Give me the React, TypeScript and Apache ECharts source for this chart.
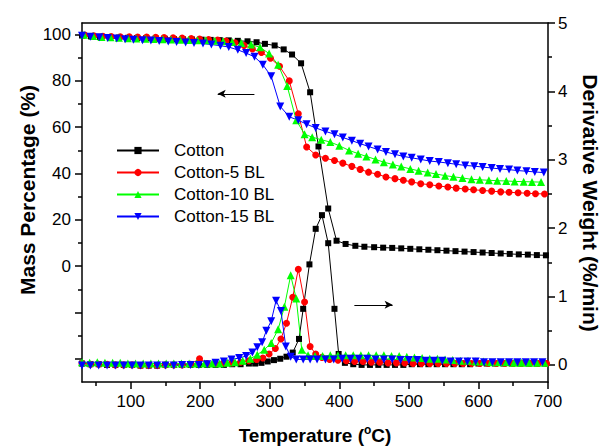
import React, { useEffect, useRef } from "react";
import * as echarts from "echarts";

const FONT = '"Liberation Sans", Arial, Helvetica, sans-serif';

// ---------- names, colours, symbols ----------
const seriesNames = ["Cotton", "Cotton-5 BL", "Cotton-10 BL", "Cotton-15 BL"];
const seriesColors = ["#000000", "#ff0000", "#00ff00", "#0000ff"];
const seriesSymbols = ["rect", "circle", "triangle", "triangle"];
const seriesSymbolRotate = [0, 0, 0, 180];
const seriesSymbolSize = [6, 7, 8, 8];

// ---------- axis ticks ----------
const xMajorTicks = [100, 200, 300, 400, 500, 600, 700];
const xMinorTicks = [50, 150, 250, 350, 450, 550, 650];
const massMajorTicks = [-40, -20, 0, 20, 40, 60, 80, 100];
const massMinorTicks = [-30, -10, 10, 30, 50, 70, 90];
const massLabels = [0, 20, 40, 60, 80, 100];
const derivMajorTicks = [0, 1, 2, 3, 4, 5];
const derivMinorTicks = [0.5, 1.5, 2.5, 3.5, 4.5];

// ---------- TGA (mass %) ----------
const tgaCottonT = [30, 43, 56, 70, 83, 96, 109, 122, 136, 149, 162, 175, 188, 202, 215, 228, 241, 254, 268, 281, 293, 307, 320, 332, 345, 358, 370, 384, 396, 409, 423, 436, 450, 463, 476, 489, 502, 515, 528, 541, 554, 567, 580, 593, 606, 619, 632, 645, 658, 671, 684, 697];
const tgaCottonM = [99.6, 99.2, 99.0, 98.8, 98.7, 98.6, 98.5, 98.4, 98.3, 98.2, 98.1, 98.0, 97.9, 97.8, 97.7, 97.6, 97.5, 97.3, 97.1, 96.7, 96.0, 95.3, 93.6, 91.4, 87.6, 75.1, 51.7, 24.9, 11.0, 9.6, 8.8, 8.4, 8.2, 8.0, 7.9, 7.7, 7.5, 7.3, 7.1, 6.9, 6.7, 6.5, 6.3, 6.1, 5.9, 5.7, 5.5, 5.3, 5.1, 5.0, 4.8, 4.7];

const tga5T = [34, 47, 60, 72, 85, 98, 110, 123, 136, 148, 161, 174, 187, 199, 212, 225, 237, 250, 263, 275, 288, 301, 314, 328, 341, 353, 366, 380, 393, 405, 418, 430, 442, 455, 467, 480, 492, 504, 517, 530, 543, 556, 568, 581, 593, 606, 619, 632, 644, 657, 670, 682, 695];
const tga5M = [99.8, 99.5, 99.3, 99.2, 99.1, 99.0, 98.9, 98.9, 98.8, 98.7, 98.6, 98.5, 98.3, 98.1, 97.9, 97.6, 97.2, 96.5, 95.3, 93.8, 92.3, 89.8, 86.3, 80.0, 65.8, 51.5, 48.0, 46.6, 45.6, 44.5, 43.1, 41.8, 40.6, 39.7, 38.5, 37.8, 37.1, 36.4, 35.6, 35.2, 34.6, 34.2, 33.7, 33.3, 33.0, 32.7, 32.4, 32.1, 31.9, 31.7, 31.5, 31.3, 31.2];

const tga10T = [33, 46, 58, 71, 83, 96, 108, 121, 133, 146, 158, 171, 183, 196, 208, 221, 233, 246, 259, 273, 286, 299, 312, 325, 338, 350, 361, 374, 387, 400, 414, 427, 439, 452, 464, 477, 489, 502, 514, 527, 539, 552, 564, 577, 590, 602, 615, 627, 640, 652, 665, 677, 690];
const tga10M = [99.9, 99.4, 99.0, 98.8, 98.6, 98.4, 98.3, 98.2, 98.1, 98.0, 97.9, 97.8, 97.7, 97.6, 97.5, 97.3, 97.1, 96.8, 96.4, 95.7, 94.5, 91.8, 87.0, 77.8, 63.0, 57.0, 55.7, 54.6, 53.6, 52.0, 50.0, 48.6, 47.4, 46.1, 44.9, 43.9, 43.0, 42.0, 41.2, 40.5, 39.8, 39.1, 38.6, 38.1, 37.5, 37.3, 37.1, 36.9, 36.8, 36.6, 36.5, 36.4, 36.3];

const tga15T = [30, 42, 55, 67, 80, 92, 104, 117, 129, 141, 154, 166, 179, 191, 204, 216, 229, 241, 254, 266, 278, 290, 302, 315, 328, 341, 353, 366, 380, 393, 405, 418, 430, 442, 455, 467, 480, 492, 504, 517, 530, 543, 556, 568, 581, 594, 606, 619, 631, 644, 656, 669, 681, 694];
const tga15M = [99.5, 99.1, 98.8, 98.5, 98.3, 98.0, 97.8, 97.6, 97.4, 97.2, 97.0, 96.8, 96.6, 96.4, 96.1, 95.7, 95.2, 94.6, 93.4, 92.0, 90.4, 87.0, 82.0, 69.0, 64.5, 63.0, 61.3, 59.7, 58.2, 57.0, 55.6, 54.2, 52.9, 51.7, 50.4, 49.3, 48.3, 47.4, 46.8, 46.1, 45.4, 45.0, 44.5, 44.0, 43.5, 43.2, 42.8, 42.4, 42.0, 41.7, 41.3, 41.0, 40.7, 40.4];

// ---------- DTG (derivative weight, %/min) ----------
const dtgCottonT = [30, 42, 54, 66, 78, 90, 102, 114, 126, 138, 150, 162, 174, 186, 198, 210, 222, 234, 246, 258, 270, 279, 288, 297, 306, 315, 324, 333, 342, 348, 357, 366, 375, 384, 393, 399, 408, 420, 432, 444, 456, 468, 480, 492, 504, 516, 528, 540, 552, 564, 576, 588, 600, 612, 624, 636, 648, 660, 672, 684, 696];
const dtgCottonD = [0.02, 0.01, 0.01, 0.0, 0.0, 0.0, 0.0, -0.01, -0.01, -0.01, 0.0, 0.0, 0.0, 0.0, 0.0, 0.0, 0.0, 0.0, 0.01, 0.01, 0.02, 0.02, 0.03, 0.05, 0.07, 0.09, 0.12, 0.18, 0.38, 0.82, 1.47, 1.99, 2.19, 1.78, 0.82, 0.16, 0.03, 0.01, 0.0, 0.0, 0.0, 0.0, 0.0, 0.0, 0.01, 0.01, 0.01, 0.01, 0.01, 0.01, 0.01, 0.01, 0.02, 0.02, 0.02, 0.02, 0.02, 0.02, 0.02, 0.02, 0.02];

const dtg5T = [30, 42, 54, 66, 78, 90, 102, 114, 126, 138, 150, 162, 174, 186, 199, 210, 222, 234, 246, 258, 270, 281, 290, 299, 308, 316, 324, 333, 341, 350, 358, 366, 375, 386, 398, 410, 422, 434, 446, 458, 470, 482, 494, 506, 518, 530, 542, 554, 566, 578, 590, 602, 614, 626, 638, 650, 662, 674, 686, 698];
const dtg5D = [0.02, 0.01, 0.01, 0.01, 0.0, 0.0, 0.0, -0.01, -0.01, -0.01, 0.0, 0.0, 0.0, 0.01, 0.09, 0.02, 0.02, 0.03, 0.03, 0.04, 0.06, 0.08, 0.1, 0.16, 0.24, 0.38, 0.61, 0.99, 1.4, 0.92, 0.27, 0.16, 0.11, 0.08, 0.07, 0.06, 0.05, 0.05, 0.04, 0.04, 0.03, 0.03, 0.03, 0.02, 0.02, 0.02, 0.02, 0.02, 0.02, 0.02, 0.02, 0.02, 0.02, 0.02, 0.02, 0.02, 0.02, 0.02, 0.02, 0.02];

const dtg10T = [30, 41, 52, 63, 74, 85, 96, 107, 118, 129, 140, 151, 162, 173, 184, 195, 206, 217, 228, 239, 250, 261, 272, 282, 292, 302, 312, 321, 330, 338, 346, 355, 365, 376, 387, 398, 409, 420, 431, 442, 453, 464, 475, 486, 497, 508, 519, 530, 541, 552, 563, 574, 585, 596, 607, 618, 629, 640, 651, 662, 673, 684, 695];
const dtg10D = [0.04, 0.03, 0.04, 0.03, 0.03, 0.03, 0.02, 0.02, 0.02, 0.02, 0.02, 0.02, 0.02, 0.02, 0.02, 0.02, 0.02, 0.02, 0.02, 0.03, 0.04, 0.06, 0.09, 0.15, 0.22, 0.32, 0.52, 0.85, 1.31, 0.97, 0.22, 0.14, 0.13, 0.13, 0.14, 0.14, 0.14, 0.14, 0.14, 0.14, 0.14, 0.14, 0.13, 0.13, 0.12, 0.11, 0.1, 0.09, 0.09, 0.08, 0.07, 0.06, 0.06, 0.05, 0.05, 0.04, 0.04, 0.04, 0.03, 0.03, 0.03, 0.03, 0.03];

const dtg15T = [30, 42, 54, 66, 78, 90, 102, 114, 126, 138, 150, 162, 174, 186, 198, 210, 222, 234, 245, 256, 266, 275, 282, 289, 295, 302, 309, 316, 323, 330, 338, 348, 358, 368, 380, 392, 404, 416, 428, 440, 452, 464, 476, 488, 500, 512, 524, 536, 548, 560, 572, 584, 596, 608, 620, 632, 644, 656, 668, 680, 692];
const dtg15D = [-0.01, -0.01, -0.01, -0.01, -0.01, -0.01, -0.01, -0.01, -0.01, -0.01, -0.01, -0.01, 0.0, 0.0, 0.0, 0.01, 0.03, 0.05, 0.08, 0.1, 0.13, 0.18, 0.26, 0.33, 0.5, 0.64, 0.94, 0.79, 0.27, 0.12, 0.08, 0.08, 0.08, 0.08, 0.08, 0.08, 0.09, 0.09, 0.09, 0.09, 0.08, 0.08, 0.08, 0.07, 0.07, 0.07, 0.06, 0.06, 0.06, 0.05, 0.05, 0.05, 0.05, 0.04, 0.04, 0.04, 0.04, 0.04, 0.04, 0.04, 0.04];

// ---------- annotation arrows (data coordinates) ----------
const massArrowT = [277.9, 225.1];
const massArrowY = 74.4;
const derivArrowT = [421.6, 476.6];
const derivArrowY = 0.878;

const tgaSets = [
  [tgaCottonT, tgaCottonM],
  [tga5T, tga5M],
  [tga10T, tga10M],
  [tga15T, tga15M],
];
const dtgSets = [
  [dtgCottonT, dtgCottonD],
  [dtg5T, dtg5D],
  [dtg10T, dtg10D],
  [dtg15T, dtg15D],
];

function makeSeries(i: number, xs: number[], ys: number[], yAxisIndex: number) {
  const color = seriesColors[i];
  return {
    name: seriesNames[i],
    type: "line",
    xAxisIndex: 0,
    yAxisIndex,
    data: xs.map((x, k) => [x, ys[k]]),
    symbol: seriesSymbols[i],
    symbolSize: seriesSymbolSize[i],
    symbolRotate: seriesSymbolRotate[i],
    showSymbol: true,
    showAllSymbol: true,
    smooth: false,
    lineStyle: { color, width: 1 },
    itemStyle: { color, borderWidth: 0 },
    emphasis: { disabled: true },
  } as any;
}

const axisLineStyle = { color: "#000", width: 1.5 };
const labelStyle = { fontSize: 17, color: "#000", fontFamily: FONT };

export default function App() {
  const ref = useRef<HTMLDivElement>(null);
  useEffect(() => {
    document.body.style.margin = "0";
    const chart = echarts.init(ref.current as HTMLDivElement, null, { renderer: "svg" });

    const series: any[] = [];
    tgaSets.forEach(([xs, ys], i) => series.push(makeSeries(i, xs, ys, 0)));
    dtgSets.forEach(([xs, ys], i) => series.push(makeSeries(i, xs, ys, 1)));

    const arrowCommon = {
      silent: true,
      symbol: ["none", "arrow"],
      symbolSize: [6, 8],
      label: { show: false },
      lineStyle: { color: "#000", width: 1, type: "solid" },
      emphasis: { disabled: true },
    };
    series[0].markLine = {
      ...arrowCommon,
      data: [[{ coord: [massArrowT[0], massArrowY] }, { coord: [massArrowT[1], massArrowY] }]],
    };
    series[4].markLine = {
      ...arrowCommon,
      data: [[{ coord: [derivArrowT[0], derivArrowY] }, { coord: [derivArrowT[1], derivArrowY] }]],
    };

    const option: any = {
      animation: false,
      backgroundColor: "#ffffff",
      grid: { left: 82, right: 55, top: 23, bottom: 65 },
      legend: {
        data: seriesNames,
        orient: "vertical",
        left: 111,
        top: 137,
        itemWidth: 42,
        itemHeight: 9,
        itemGap: 5,
        selectedMode: false,
        textStyle: { fontSize: 17, color: "#000", fontFamily: FONT, padding: [0, 0, 0, 10] },
      },
      xAxis: [
        {
          type: "value",
          position: "bottom",
          min: 30,
          max: 700,
          axisLine: { show: true, onZero: false, lineStyle: axisLineStyle },
          axisTick: { show: true, customValues: xMajorTicks, length: 7, lineStyle: axisLineStyle },
          axisLabel: { show: true, customValues: xMajorTicks, margin: 11, ...labelStyle },
          splitLine: { show: false },
        },
        {
          type: "value",
          position: "bottom",
          min: 30,
          max: 700,
          axisLine: { show: false, onZero: false },
          axisTick: { show: true, customValues: xMinorTicks, length: 4, lineStyle: axisLineStyle },
          axisLabel: { show: false },
          splitLine: { show: false },
        },
        {
          type: "value",
          position: "top",
          min: 30,
          max: 700,
          axisLine: { show: true, onZero: false, lineStyle: axisLineStyle },
          axisTick: { show: false },
          axisLabel: { show: false },
          splitLine: { show: false },
        },
      ],
      yAxis: [
        {
          type: "value",
          position: "left",
          min: -50,
          max: 105,
          axisLine: { show: true, onZero: false, lineStyle: axisLineStyle },
          axisTick: { show: true, customValues: massMajorTicks, length: 7, lineStyle: axisLineStyle },
          axisLabel: { show: true, customValues: massLabels, margin: 11, ...labelStyle },
          splitLine: { show: false },
        },
        {
          type: "value",
          position: "right",
          min: -0.25,
          max: 5,
          axisLine: { show: true, onZero: false, lineStyle: axisLineStyle },
          axisTick: { show: true, customValues: derivMajorTicks, length: 7, lineStyle: axisLineStyle },
          axisLabel: { show: true, customValues: derivMajorTicks, margin: 10, ...labelStyle },
          splitLine: { show: false },
        },
        {
          type: "value",
          position: "left",
          min: -50,
          max: 105,
          axisLine: { show: false, onZero: false },
          axisTick: { show: true, customValues: massMinorTicks, length: 4, lineStyle: axisLineStyle },
          axisLabel: { show: false },
          splitLine: { show: false },
        },
        {
          type: "value",
          position: "right",
          min: -0.25,
          max: 5,
          axisLine: { show: false, onZero: false },
          axisTick: { show: true, customValues: derivMinorTicks, length: 4, lineStyle: axisLineStyle },
          axisLabel: { show: false },
          splitLine: { show: false },
        },
      ],
      graphic: [
        {
          type: "text",
          x: 27,
          y: 190,
          rotation: Math.PI / 2,
          style: {
            text: "Mass Percentage (%)",
            font: `bold 21px ${FONT}`,
            fill: "#000",
            align: "center",
            verticalAlign: "middle",
            textAlign: "center",
            textVerticalAlign: "middle",
          },
        },
        {
          type: "text",
          x: 590,
          y: 203,
          rotation: -Math.PI / 2,
          style: {
            text: "Derivative Weight (%/min)",
            font: `bold 21px ${FONT}`,
            fill: "#000",
            align: "center",
            verticalAlign: "middle",
            textAlign: "center",
            textVerticalAlign: "middle",
          },
        },
        {
          type: "text",
          x: 315,
          y: 435,
          style: {
            text: "{a|Temperature (}{s|o}{a|C)}",
            rich: {
              a: { fontSize: 19, fontWeight: "bold", fontFamily: FONT, fill: "#000", color: "#000", lineHeight: 22 },
              s: { fontSize: 12, fontWeight: "bold", fontFamily: FONT, fill: "#000", color: "#000", lineHeight: 12, verticalAlign: "top" },
            },
            fill: "#000",
            align: "center",
            verticalAlign: "middle",
            textAlign: "center",
            textVerticalAlign: "middle",
          },
        },
      ],
      series,
    };
    chart.setOption(option);
    return () => chart.dispose();
  }, []);
  return <div ref={ref} style={{ width: 603, height: 447 }} />;
}
